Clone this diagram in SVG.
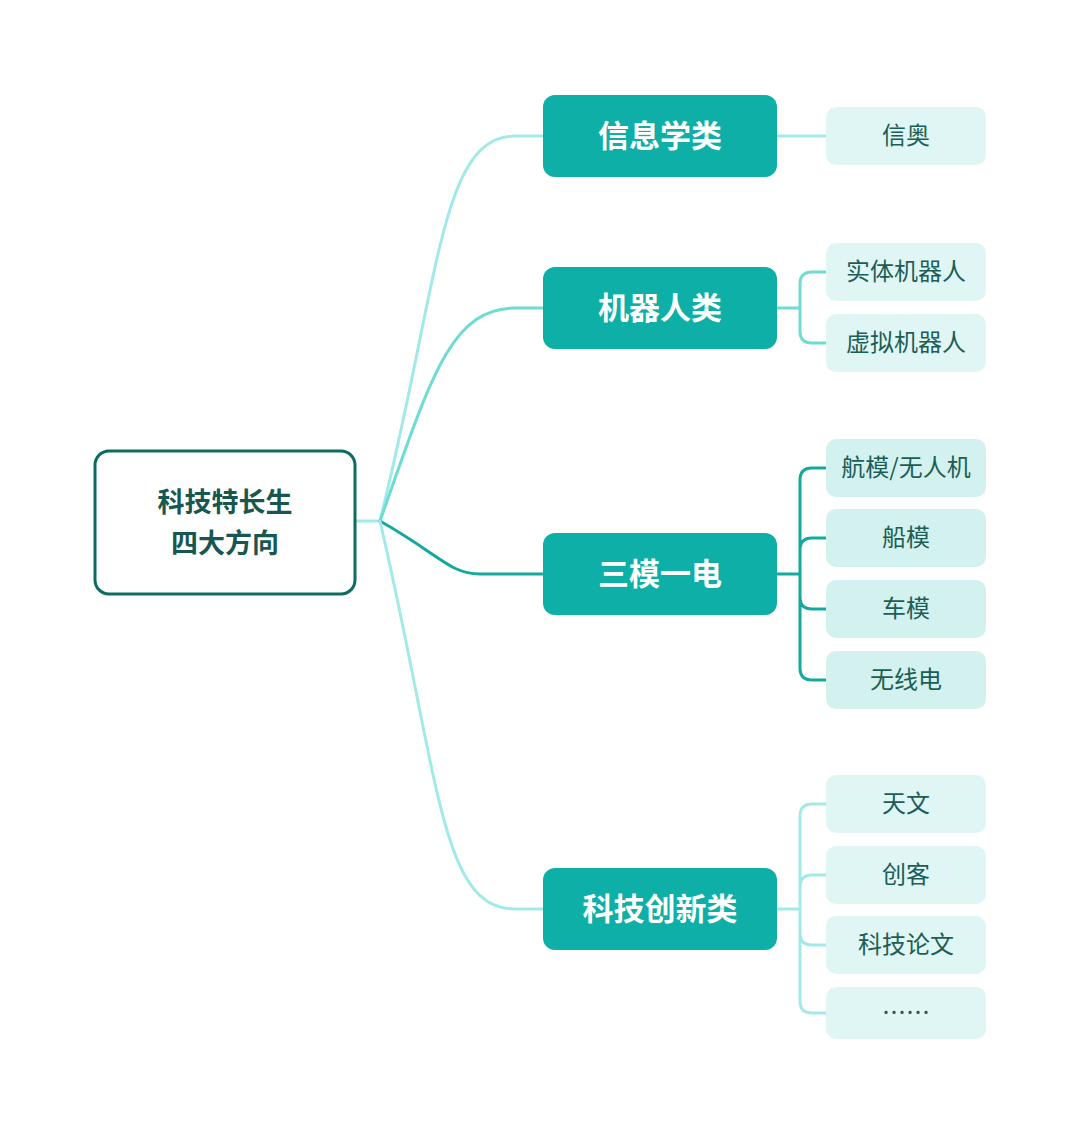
<svg xmlns="http://www.w3.org/2000/svg" width="1080" height="1134" viewBox="0 0 1080 1134">
<style>
.main{fill:#0DAFA6}
.mt{font-family:"Noto Sans CJK SC",sans-serif;font-size:31px;font-weight:bold;fill:#fff;text-anchor:middle}
.leaf{fill:#E0F6F4}
.leaf2{fill:#D3F2EF}
.lt{font-family:"Noto Sans CJK SC",sans-serif;font-size:24px;fill:#1C5E56;text-anchor:middle}
.c{fill:none;stroke-width:3;stroke-linecap:round}
.l1{stroke:#A2EAE7}.l2{stroke:#6FDCD4}.l3{stroke:#13A99F}
</style>
<rect width="1080" height="1134" fill="#fff"/>
<g id="connectors">
<path class="c l1" d="M357,521 H380"/>
<path class="c l1" d="M380,521 C440,280 440,136 515,136 H543"/>
<path class="c l2" d="M380,521 C430,380 450,308 515,308 H543"/>
<path class="c l3" d="M380,521 C440,555 450,574 480,574 H543"/>
<path class="c l1" d="M380,521 C440,780 440,909 515,909 H543"/>
<path class="c l1" d="M777,136 H826"/>
<path class="c l2" d="M777,308 H800 M826,272 H812 Q800,272 800,284 V331 Q800,343 812,343 H826"/>
<path class="c l3" d="M777,574 H800 M826,468 H812 Q800,468 800,480 V668 Q800,680 812,680 H826 M800,550 Q800,538 812,538 H826 M800,597 Q800,609 812,609 H826"/>
<path class="c l1" d="M777,909 H800 M826,804 H812 Q800,804 800,816 V1001 Q800,1013 812,1013 H826 M800,887 Q800,875 812,875 H826 M800,933 Q800,945 812,945 H826"/>
</g>
<g id="root"><rect x="95" y="451" width="260" height="143" rx="14" fill="#fff" stroke="#0F6B62" stroke-width="3"/>
<text x="225" y="512" font-family="Noto Sans CJK SC,sans-serif" font-size="27" font-weight="bold" fill="#17574F" text-anchor="middle">科技特长生</text>
<text x="225" y="553" font-family="Noto Sans CJK SC,sans-serif" font-size="27" font-weight="bold" fill="#17574F" text-anchor="middle">四大方向</text></g>
<g id="m1"><rect class="main" x="543" y="95" width="234" height="82" rx="12"/><text class="mt" x="660" y="147">信息学类</text></g>
<g id="m2"><rect class="main" x="543" y="267" width="234" height="82" rx="12"/><text class="mt" x="660" y="319">机器人类</text></g>
<g id="m3"><rect class="main" x="543" y="533" width="234" height="82" rx="12"/><text class="mt" x="660" y="585">三模一电</text></g>
<g id="m4"><rect class="main" x="543" y="868" width="234" height="82" rx="12"/><text class="mt" x="660" y="920">科技创新类</text></g>
<g id="l1"><rect class="leaf" x="826" y="107" width="160" height="58" rx="10"/><text class="lt" x="906" y="144">信奥</text></g>
<g id="l2"><rect class="leaf" x="826" y="243" width="160" height="58" rx="10"/><text class="lt" x="906" y="280">实体机器人</text></g>
<g id="l3"><rect class="leaf" x="826" y="314" width="160" height="58" rx="10"/><text class="lt" x="906" y="351">虚拟机器人</text></g>
<g id="l4"><rect class="leaf2" x="826" y="439" width="160" height="58" rx="10"/><text class="lt" x="906" y="476">航模/无人机</text></g>
<g id="l5"><rect class="leaf2" x="826" y="509" width="160" height="58" rx="10"/><text class="lt" x="906" y="546">船模</text></g>
<g id="l6"><rect class="leaf2" x="826" y="580" width="160" height="58" rx="10"/><text class="lt" x="906" y="617">车模</text></g>
<g id="l7"><rect class="leaf2" x="826" y="651" width="160" height="58" rx="10"/><text class="lt" x="906" y="688">无线电</text></g>
<g id="l8"><rect class="leaf" x="826" y="775" width="160" height="58" rx="10"/><text class="lt" x="906" y="812">天文</text></g>
<g id="l9"><rect class="leaf" x="826" y="846" width="160" height="58" rx="10"/><text class="lt" x="906" y="883">创客</text></g>
<g id="l10"><rect class="leaf" x="826" y="916" width="160" height="58" rx="10"/><text class="lt" x="906" y="953">科技论文</text></g>
<g id="l11"><rect class="leaf" x="826" y="987" width="160" height="52" rx="10"/><text class="lt" x="906" y="1021" font-size="18">……</text></g>
</svg>
